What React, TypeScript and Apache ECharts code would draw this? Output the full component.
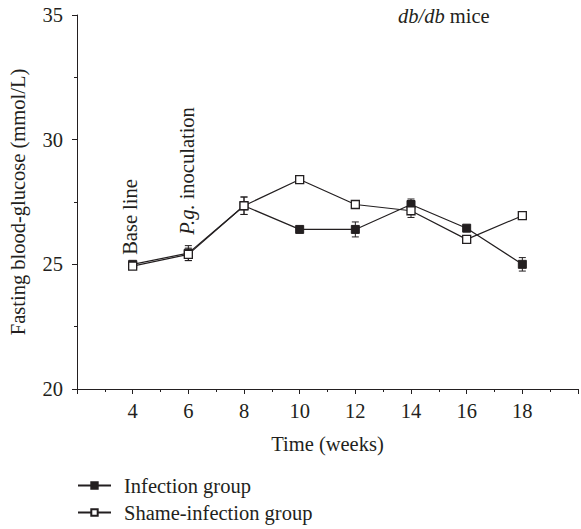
import React, { useEffect, useRef } from "react";
import * as echarts from "echarts";

const weeks = [4, 6, 8, 10, 12, 14, 16, 18];
const infection = [25.0, 25.45, 27.35, 26.4, 26.4, 27.4, 26.45, 25.0];
const infectionErr = [0.1, 0.3, 0.35, 0.1, 0.3, 0.22, 0.1, 0.27];
const sham = [24.93, 25.4, 27.35, 28.4, 27.4, 27.15, 26.0, 26.95];
const shamErr = [0.1, 0.25, 0.35, 0.1, 0.1, 0.27, 0.1, 0.1];
const seriesNames = ["Infection group", "Shame-infection group"];

const INK = "#231f20";
const FONT = "'Liberation Serif', 'Times New Roman', serif";
const FS = 20.5;

export default function App() {
  const ref = useRef<HTMLDivElement>(null);
  useEffect(() => {
    if (!ref.current) return;
    const chart = echarts.init(ref.current, undefined, { renderer: "svg" });

    const errData = (vals: number[], errs: number[]) =>
      weeks.map((w, i) => [w, vals[i], errs[i]]);

    const errRender = (params: any, api: any) => {
      const x = api.value(0);
      const y = api.value(1);
      const e = api.value(2);
      const top = api.coord([x, y + e]);
      const bot = api.coord([x, y - e]);
      const hw = 3.5;
      const st = { stroke: INK, lineWidth: 1 };
      return {
        type: "group",
        children: [
          { type: "line", shape: { x1: top[0], y1: top[1], x2: bot[0], y2: bot[1] }, style: st },
          { type: "line", shape: { x1: top[0] - hw, y1: top[1], x2: top[0] + hw, y2: top[1] }, style: st },
          { type: "line", shape: { x1: bot[0] - hw, y1: bot[1], x2: bot[0] + hw, y2: bot[1] }, style: st },
        ],
      };
    };

    const vText = (x: number, y: number, text: string) => ({
      type: "text",
      x,
      y,
      rotation: Math.PI / 2,
      style: {
        text,
        fontSize: FS,
        fontFamily: FONT,
        fill: INK,
        align: "center",
        verticalAlign: "middle",
        rich: { i: { fontStyle: "italic", fontSize: FS, fontFamily: FONT, fill: INK } },
      },
    });

    const legendBase = {
      orient: "horizontal",
      left: 77,
      itemWidth: 33,
      itemHeight: 8,
      padding: 0,
      textStyle: { fontSize: FS, fontFamily: FONT, color: INK, padding: [0, 0, 0, 8] },
    };

    chart.setOption({
      animation: false,
      textStyle: { fontFamily: FONT, color: INK },
      grid: { left: 77, right: 0, top: 15, bottom: 140 },
      xAxis: {
        type: "value",
        min: 2,
        max: 20,
        interval: 2,
        axisLine: { onZero: false, lineStyle: { color: INK, width: 1 } },
        axisTick: { inside: false, length: 5, lineStyle: { color: INK } },
        minorTick: { show: true, splitNumber: 2, length: 3, lineStyle: { color: INK } },
        splitLine: { show: false },
        axisLabel: {
          margin: 11,
          fontSize: FS,
          fontFamily: FONT,
          color: INK,
          formatter: (v: number) => (v === 2 || v === 20 ? "" : String(v)),
        },
        name: "Time (weeks)",
        nameLocation: "middle",
        nameGap: 44,
        nameTextStyle: { fontSize: FS, fontFamily: FONT, color: INK },
      },
      yAxis: {
        type: "value",
        min: 20,
        max: 35,
        interval: 5,
        axisLine: { show: true, lineStyle: { color: INK, width: 1 } },
        axisTick: { show: true, inside: false, length: 5, lineStyle: { color: INK } },
        minorTick: { show: true, splitNumber: 2, length: 3, lineStyle: { color: INK } },
        splitLine: { show: false },
        axisLabel: { margin: 14, fontSize: FS, fontFamily: FONT, color: INK },
      },
      legend: [
        { ...legendBase, top: 475, data: [seriesNames[0]] },
        { ...legendBase, top: 502, data: [seriesNames[1]] },
      ],
      graphic: [
        vText(18, 202, "Fasting blood-glucose (mmol/L)"),
        vText(130, 217, "Base line"),
        vText(187, 171, "{i|P.g.} inoculation"),
        {
          type: "text",
          x: 398,
          y: 16,
          style: {
            text: "{i|db/db} mice",
            fontSize: FS,
            fontFamily: FONT,
            fill: INK,
            align: "left",
            verticalAlign: "middle",
            rich: { i: { fontStyle: "italic", fontSize: FS, fontFamily: FONT, fill: INK } },
          },
        },
      ],
      series: [
        {
          type: "custom",
          name: "infErr",
          renderItem: errRender,
          data: errData(infection, infectionErr),
          z: 1,
          silent: true,
        },
        {
          type: "custom",
          name: "shamErr",
          renderItem: errRender,
          data: errData(sham, shamErr),
          z: 1,
          silent: true,
        },
        {
          type: "line",
          name: seriesNames[0],
          data: weeks.map((w, i) => [w, infection[i]]),
          symbol: "rect",
          symbolSize: 8,
          showAllSymbol: true,
          lineStyle: { color: INK, width: 1.2 },
          itemStyle: { color: INK, borderColor: INK, borderWidth: 1 },
          z: 2,
        },
        {
          type: "line",
          name: seriesNames[1],
          data: weeks.map((w, i) => [w, sham[i]]),
          symbol: "rect",
          symbolSize: 8,
          showAllSymbol: true,
          lineStyle: { color: INK, width: 1.2 },
          itemStyle: { color: "#ffffff", borderColor: INK, borderWidth: 1.3 },
          z: 3,
        },
      ],
    });
    return () => chart.dispose();
  }, []);
  return (
    <div
      ref={ref}
      style={{ position: "fixed", left: 0, top: 0, width: 581, height: 529, background: "#fff" }}
    />
  );
}
